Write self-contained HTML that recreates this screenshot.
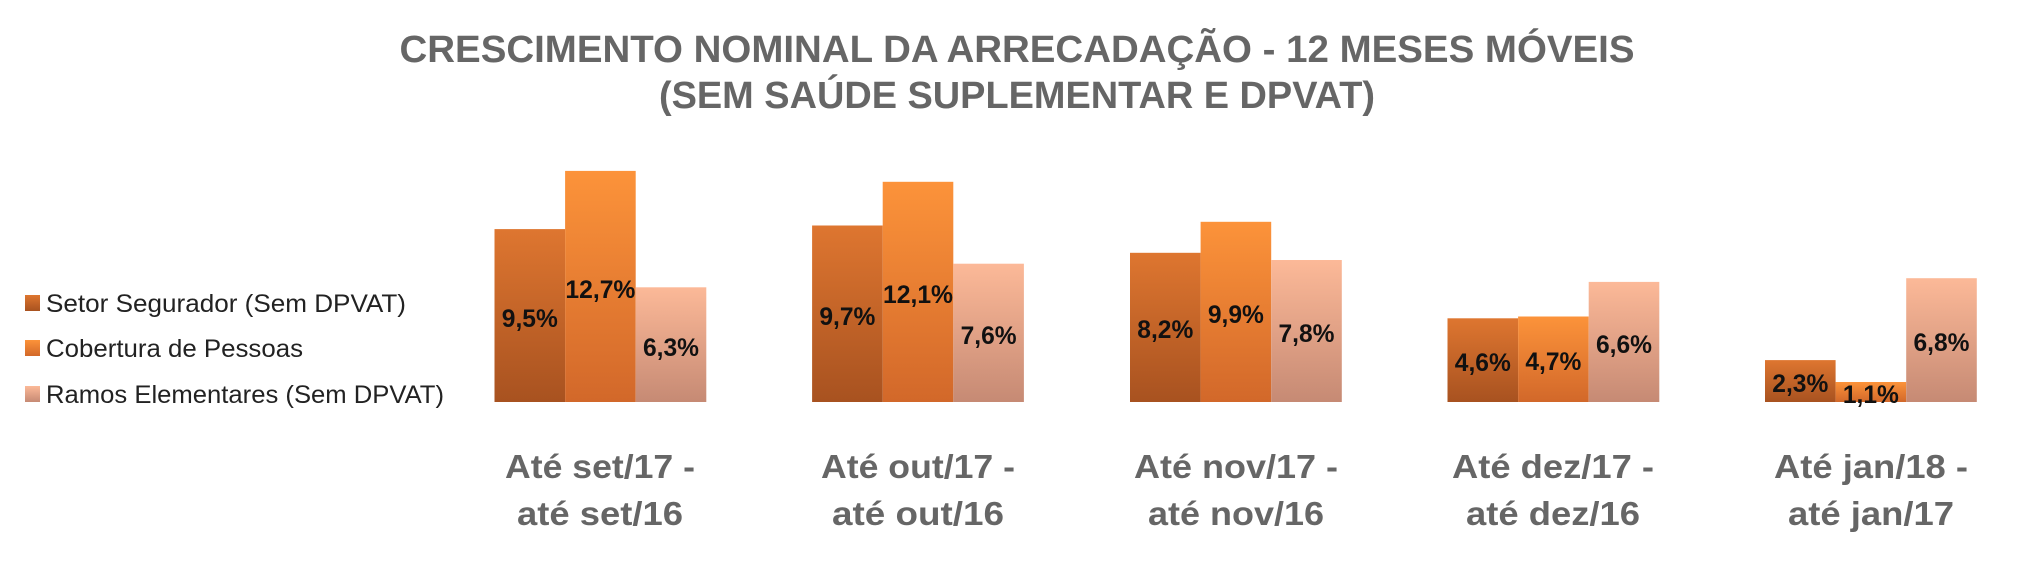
<!DOCTYPE html>
<html><head><meta charset="utf-8"><style>
html,body{margin:0;padding:0;background:#fff;}
svg{display:block;}
text{font-family:"Liberation Sans",sans-serif;}
</style></head><body>
<svg width="2022" height="562" viewBox="0 0 2022 562" xmlns="http://www.w3.org/2000/svg">
<defs>
<linearGradient id="g1" x1="0" y1="0" x2="0" y2="1"><stop offset="0" stop-color="#de7630"/><stop offset="1" stop-color="#a85220"/></linearGradient>
<linearGradient id="g2" x1="0" y1="0" x2="0" y2="1"><stop offset="0" stop-color="#fc933a"/><stop offset="1" stop-color="#d2682a"/></linearGradient>
<linearGradient id="g3" x1="0" y1="0" x2="0" y2="1"><stop offset="0" stop-color="#fcb998"/><stop offset="1" stop-color="#c68a74"/></linearGradient>
</defs>
<g fill="#666" font-weight="bold">
<text x="1017" y="62" font-size="38" text-anchor="middle" textLength="1235" lengthAdjust="spacingAndGlyphs">CRESCIMENTO NOMINAL DA ARRECADAÇÃO - 12 MESES MÓVEIS</text>
<text x="1017" y="108" font-size="38" text-anchor="middle" textLength="716" lengthAdjust="spacingAndGlyphs">(SEM SAÚDE SUPLEMENTAR E DPVAT)</text>
</g>
<rect x="25" y="295" width="15" height="16" fill="url(#g1)"/>
<rect x="25" y="340" width="15" height="16" fill="url(#g2)"/>
<rect x="25" y="386" width="15" height="16" fill="url(#g3)"/>
<g fill="#222" font-size="25">
<text x="46" y="312" textLength="360" lengthAdjust="spacingAndGlyphs">Setor Segurador (Sem DPVAT)</text>
<text x="46" y="357" textLength="257" lengthAdjust="spacingAndGlyphs">Cobertura de Pessoas</text>
<text x="46" y="403" textLength="398" lengthAdjust="spacingAndGlyphs">Ramos Elementares (Sem DPVAT)</text>
</g>
<g fill="#666" font-weight="bold" font-size="33" text-anchor="middle">
<text x="600" y="478" textLength="190" lengthAdjust="spacingAndGlyphs">Até set/17 -</text>
<text x="600" y="525" textLength="166" lengthAdjust="spacingAndGlyphs">até set/16</text>
<text x="918" y="478" textLength="194" lengthAdjust="spacingAndGlyphs">Até out/17 -</text>
<text x="918" y="525" textLength="172" lengthAdjust="spacingAndGlyphs">até out/16</text>
<text x="1236" y="478" textLength="204" lengthAdjust="spacingAndGlyphs">Até nov/17 -</text>
<text x="1236" y="525" textLength="176" lengthAdjust="spacingAndGlyphs">até nov/16</text>
<text x="1553" y="478" textLength="202" lengthAdjust="spacingAndGlyphs">Até dez/17 -</text>
<text x="1553" y="525" textLength="174" lengthAdjust="spacingAndGlyphs">até dez/16</text>
<text x="1871" y="478" textLength="194" lengthAdjust="spacingAndGlyphs">Até jan/18 -</text>
<text x="1871" y="525" textLength="166" lengthAdjust="spacingAndGlyphs">até jan/17</text>
</g>
<g font-weight="bold" font-size="25" fill="#111" text-anchor="middle">
<rect x="494.5" y="229.1" width="70.6" height="172.9" fill="url(#g1)"/><text x="529.8" y="327" textLength="56" lengthAdjust="spacingAndGlyphs">9,5%</text>
<rect x="565.1" y="170.9" width="70.6" height="231.1" fill="url(#g2)"/><text x="600.4" y="298" textLength="70" lengthAdjust="spacingAndGlyphs">12,7%</text>
<rect x="635.7" y="287.3" width="70.6" height="114.7" fill="url(#g3)"/><text x="671" y="356" textLength="56" lengthAdjust="spacingAndGlyphs">6,3%</text>

<rect x="812.1" y="225.5" width="70.6" height="176.5" fill="url(#g1)"/><text x="847.4" y="325" textLength="56" lengthAdjust="spacingAndGlyphs">9,7%</text>
<rect x="882.7" y="181.8" width="70.6" height="220.2" fill="url(#g2)"/><text x="918" y="303" textLength="70" lengthAdjust="spacingAndGlyphs">12,1%</text>
<rect x="953.3" y="263.7" width="70.6" height="138.3" fill="url(#g3)"/><text x="988.6" y="344" textLength="56" lengthAdjust="spacingAndGlyphs">7,6%</text>

<rect x="1130" y="252.8" width="70.6" height="149.2" fill="url(#g1)"/><text x="1165.3" y="338" textLength="56" lengthAdjust="spacingAndGlyphs">8,2%</text>
<rect x="1200.6" y="221.8" width="70.6" height="180.2" fill="url(#g2)"/><text x="1235.9" y="323" textLength="56" lengthAdjust="spacingAndGlyphs">9,9%</text>
<rect x="1271.2" y="260" width="70.6" height="142" fill="url(#g3)"/><text x="1306.5" y="342" textLength="56" lengthAdjust="spacingAndGlyphs">7,8%</text>

<rect x="1447.5" y="318.3" width="70.6" height="83.7" fill="url(#g1)"/><text x="1482.8" y="371" textLength="56" lengthAdjust="spacingAndGlyphs">4,6%</text>
<rect x="1518.1" y="316.5" width="70.6" height="85.5" fill="url(#g2)"/><text x="1553.4" y="370" textLength="56" lengthAdjust="spacingAndGlyphs">4,7%</text>
<rect x="1588.7" y="281.9" width="70.6" height="120.1" fill="url(#g3)"/><text x="1624" y="353" textLength="56" lengthAdjust="spacingAndGlyphs">6,6%</text>

<rect x="1765" y="360.1" width="70.6" height="41.9" fill="url(#g1)"/><text x="1800.3" y="392" textLength="56" lengthAdjust="spacingAndGlyphs">2,3%</text>
<rect x="1835.6" y="382" width="70.6" height="20" fill="url(#g2)"/><text x="1870.9" y="403" textLength="56" lengthAdjust="spacingAndGlyphs">1,1%</text>
<rect x="1906.2" y="278.2" width="70.6" height="123.8" fill="url(#g3)"/><text x="1941.5" y="351" textLength="56" lengthAdjust="spacingAndGlyphs">6,8%</text>
</g>
</svg>
</body></html>
